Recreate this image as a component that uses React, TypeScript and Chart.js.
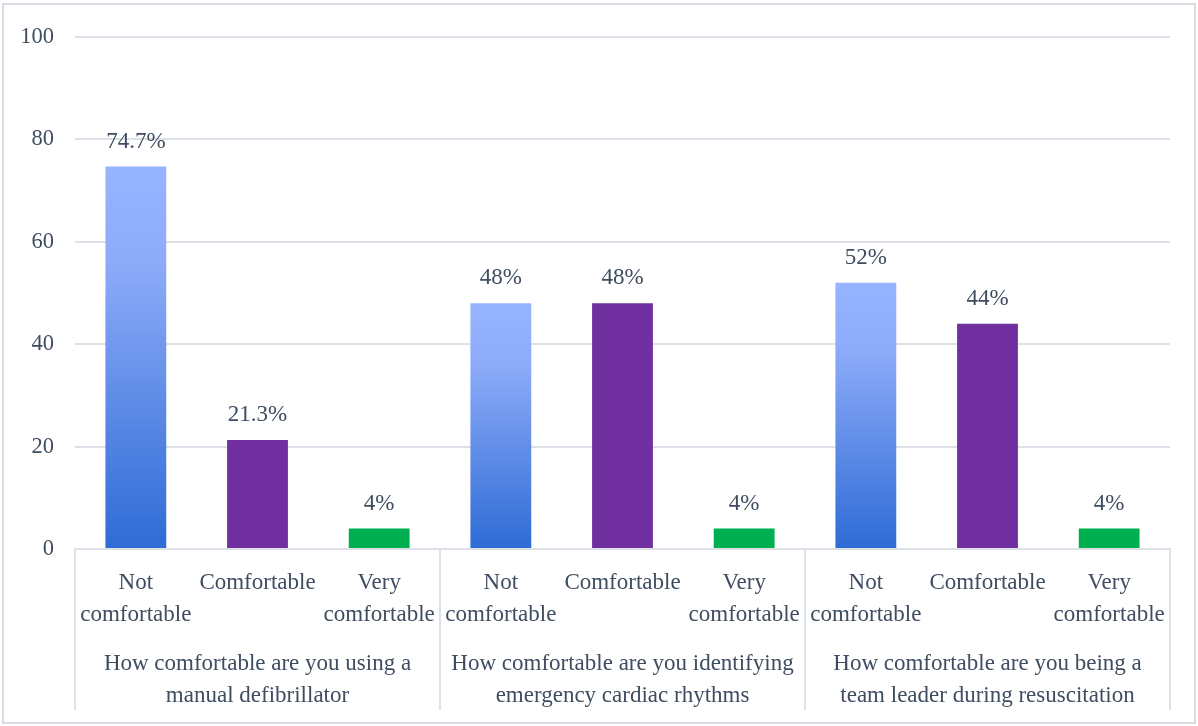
import React, { useEffect, useRef } from "react";
import { Chart, registerables } from "chart.js";

Chart.register(...registerables);

const categories: string[][] = [
  ["Not", "comfortable"], ["Comfortable"], ["Very", "comfortable"],
  ["Not", "comfortable"], ["Comfortable"], ["Very", "comfortable"],
  ["Not", "comfortable"], ["Comfortable"], ["Very", "comfortable"],
];
const groupLabels: string[][] = [
  ["How comfortable are you using a", "manual defibrillator"],
  ["How comfortable are you identifying", "emergency cardiac rhythms"],
  ["How comfortable are you being a", "team leader during resuscitation"],
];
const values: number[] = [74.7, 21.3, 4, 48, 48, 4, 52, 44, 4];
const valueLabels: string[] = ["74.7%", "21.3%", "4%", "48%", "48%", "4%", "52%", "44%", "4%"];
const yMin = 0;
const yMax = 100;
const yStep = 20;

const TEXT = "#3f4d60";
const GRID = "#dde1e7";
const FONT = "'Liberation Serif', 'Times New Roman', serif";

const borderPlugin = {
  id: "outerBorder",
  beforeDraw(chart: any) {
    const c = chart.ctx;
    c.save();
    c.fillStyle = "#ffffff";
    c.fillRect(0, 0, chart.width, chart.height);
    c.strokeStyle = "#d9dde3";
    c.lineWidth = 2;
    c.strokeRect(3, 4, chart.width - 6, chart.height - 7);
    c.restore();
  },
};

const labelPlugin = {
  id: "valueLabels",
  afterDatasetsDraw(chart: any) {
    const c = chart.ctx;
    const meta = chart.getDatasetMeta(0);
    c.save();
    c.font = `23px ${FONT}`;
    c.fillStyle = TEXT;
    c.textAlign = "center";
    c.textBaseline = "alphabetic";
    meta.data.forEach((bar: any, i: number) => {
      c.fillText(valueLabels[i], bar.x, bar.y - 19);
    });
    c.restore();
  },
};

const groupPlugin = {
  id: "groupAxis",
  afterDraw(chart: any) {
    const x = chart.scales.x;
    const c = chart.ctx;
    const step = x.getPixelForValue(1) - x.getPixelForValue(0);
    c.save();
    c.strokeStyle = GRID;
    c.lineWidth = 2;
    for (let g = 0; g <= groupLabels.length; g++) {
      const px = Math.round(x.getPixelForValue(g * 3) - step / 2);
      c.beginPath();
      c.moveTo(px, x.top);
      c.lineTo(px, x.top + 161);
      c.stroke();
    }
    c.font = `23px ${FONT}`;
    c.fillStyle = TEXT;
    c.textAlign = "center";
    c.textBaseline = "alphabetic";
    groupLabels.forEach((lines, g) => {
      const cx = (x.getPixelForValue(g * 3) + x.getPixelForValue(g * 3 + 2)) / 2;
      lines.forEach((line, j) => {
        c.fillText(line, cx, x.top + 121 + j * 32);
      });
    });
    c.restore();
  },
};

export default function App() {
  const ref = useRef<HTMLCanvasElement | null>(null);
  useEffect(() => {
    document.body.style.margin = "0";
    const canvas = ref.current;
    if (!canvas) return;
    const chart = new Chart(canvas, {
      type: "bar",
      data: {
        labels: categories,
        datasets: [
          {
            data: values,
            backgroundColor: (ctx: any) => {
              const i = ctx.dataIndex;
              const k = i % 3;
              if (k === 1) return "#7030A0";
              if (k === 2) return "#00B050";
              const chartObj = ctx.chart;
              if (!chartObj.chartArea || !chartObj.scales.y) return "#6a90ea";
              const ys = chartObj.scales.y;
              const top = ys.getPixelForValue(values[i]);
              const bottom = ys.getPixelForValue(0);
              if (!isFinite(top) || !isFinite(bottom) || top === bottom) return "#6a90ea";
              const gr = chartObj.ctx.createLinearGradient(0, top, 0, bottom);
              gr.addColorStop(0, "#96b4ff");
              gr.addColorStop(0.25, "#8dabf9");
              gr.addColorStop(1, "#2e6bd5");
              return gr;
            },
            borderWidth: 0,
            barPercentage: 0.5,
            categoryPercentage: 1,
          },
        ],
      },
      options: {
        responsive: false,
        animation: false,
        layout: { padding: { top: 37, right: 28, left: 0, bottom: 0 } },
        plugins: {
          legend: { display: false },
          tooltip: { enabled: false },
        },
        scales: {
          x: {
            grid: { display: false },
            border: { display: true, color: GRID, width: 2 },
            ticks: {
              color: TEXT,
              font: { family: FONT, size: 23, lineHeight: 1.4 },
              padding: 10,
              maxRotation: 0,
              autoSkip: false,
            },
            afterFit: (scale: any) => {
              scale.height = 177;
            },
          },
          y: {
            min: yMin,
            max: yMax,
            grid: { color: GRID, lineWidth: 2, drawTicks: false },
            border: { display: false },
            ticks: {
              stepSize: yStep,
              color: TEXT,
              font: { family: FONT, size: 22.5 },
              padding: 21,
            },
            afterFit: (scale: any) => {
              scale.width = 75;
            },
          },
        },
      },
      plugins: [borderPlugin, labelPlugin, groupPlugin],
    });
    return () => chart.destroy();
  }, []);
  return (
    <div style={{ position: "fixed", left: 0, top: 0, width: 1198, height: 726 }}>
      <canvas ref={ref} width={1198} height={726} style={{ display: "block" }} />
    </div>
  );
}
